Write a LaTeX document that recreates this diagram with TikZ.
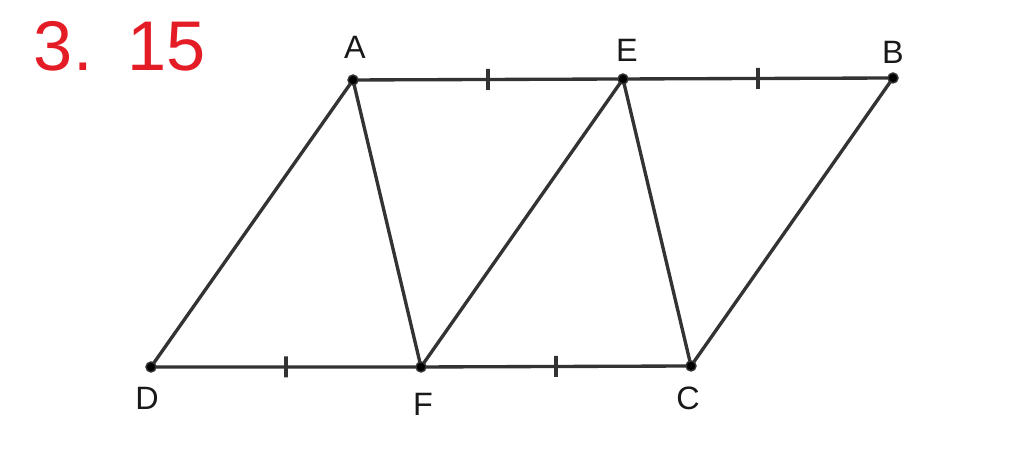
\documentclass[tikz,border=0pt]{standalone}
\usepackage{fontspec}
\setmainfont{Liberation Sans}
\usetikzlibrary{arrows.meta}
\definecolor{penred}{RGB}{228,28,38}

\begin{document}
\begin{tikzpicture}[x=0.01cm,y=-0.01cm,
	seg/.style={line width=0.95pt,draw=black!80},
	dot/.style={circle,fill=black,draw=black!80,inner sep=0pt,minimum size=0.1cm},
	hashmark/.style={draw=black!80,line width=0.95pt,inner sep=0pt,minimum width=0pt,minimum height=0.21cm},
	lbl/.style={font=\fontsize{9.2}{11}\selectfont,text=black!90}]
	\useasboundingbox (0,0) rectangle (1024,459);
	\node[text=penred,font=\fontsize{20}{24}\selectfont] (num) at (120,46) {3.\,\,\,15};
	\foreach \n/\x/\y in {A/353/80, E/623/79, B/893/78, D/151/367, F/421/367, C/691/366} {
		\coordinate (\n) at (\x,\y);
	};
	% sides with equal halves
	\draw[seg] (A) -- node[hashmark]{} (E) -- node[hashmark]{} (B);
	\draw[seg] (D) -- node[hashmark]{} (F) -- node[hashmark]{} (C);
	\foreach \p/\q in {D/A, A/F, F/E, E/C, C/B} {
		\draw[seg] (\p) -- (\q);
	};
	\foreach \n in {A,E,B,D,F,C} {
		\node[dot] (d\n) at (\n) {};
	};
	\foreach \n/\x/\y in {A/355/47, E/627/50, B/893/52, D/147/398, F/423/404, C/688/398} {
		\node[lbl] (l\n) at (\x,\y) {\n};
	};
\end{tikzpicture}
\end{document}
